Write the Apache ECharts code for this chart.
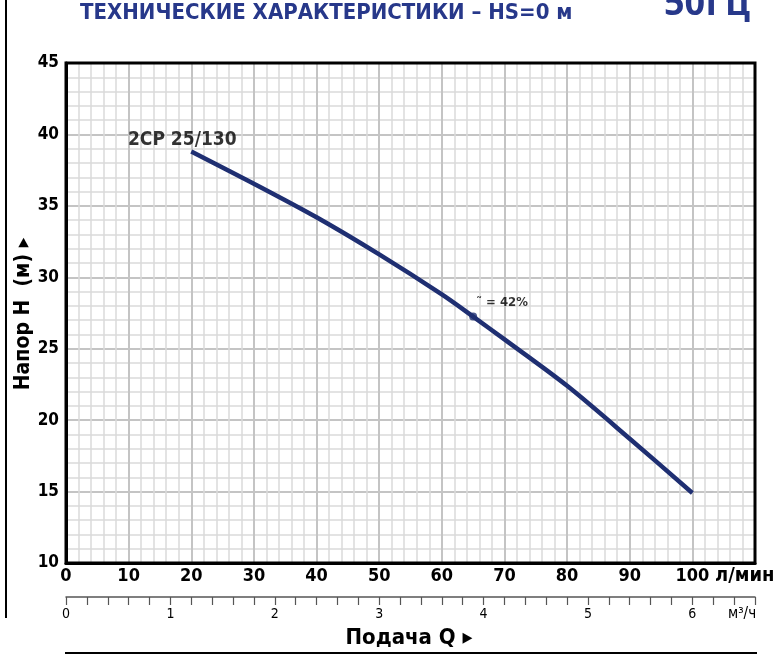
<!DOCTYPE html>
<html><head><meta charset="utf-8">
<script src="https://cdn.jsdelivr.net/npm/echarts@6/dist/echarts.min.js"></script>
<style>html,body{margin:0;padding:0;background:#fff}#c{width:781px;height:655px}</style>
</head><body><div id="c"></div>
<script>
// ---- data ----
const flowLpm = [20, 30, 40, 50, 60, 65, 70, 80, 90, 100];
const headM   = [38.8, 36.55, 34.2, 31.6, 28.8, 27.25, 25.65, 22.4, 18.7, 14.9];
const curveName = '2CP 25/130';
const effFlow = 65;
const effHead = 27.25;
const effText = '˜ = 42%';
const lpmAxis = { min: 0, max: 110, step: 10 };
const headAxis = { min: 10, max: 45, step: 5 };
const m3hAxis = { min: 0, max: 6.6, step: 0.2 };
const titleText = 'ТЕХНИЧЕСКИЕ ХАРАКТЕРИСТИКИ – HS=0 м';
const freqText = '50Гц';
const yName = 'Напор H  (м) ▸';
const xName = 'Подача Q ▸';
const lpmUnit = 'л/мин';
const m3hUnit = 'м³/ч';

const NARROW = '"Liberation Sans Narrow","DejaVu Sans Condensed","Liberation Sans",sans-serif';
const NAVY = '#1f2f72';
const TITLE = '#27388a';

const chart = echarts.init(document.getElementById('c'), null, {renderer: 'canvas'});
const curve = flowLpm.map((q, i) => [q, headM[i]]);

chart.setOption({
  animation: false,
  backgroundColor: '#fff',
  grid: [
    {left: 66, right: 26, top: 63, bottom: 92, show: true, borderColor: '#000', borderWidth: 3, backgroundColor: 'transparent', z: 3},
    {left: 66, right: 26, top: 596, height: 1}
  ],
  xAxis: [
    {
      type: 'value', gridIndex: 0, min: lpmAxis.min, max: lpmAxis.max, interval: lpmAxis.step,
      axisLine: {show: true, lineStyle: {color: '#000', width: 3}},
      axisTick: {show: false},
      axisLabel: {
        margin: 4, color: '#000', fontWeight: 'bold', fontSize: 18, fontFamily: NARROW,
        formatter: v => (v <= 100 ? String(v) : '')
      },
      splitLine: {show: true, lineStyle: {color: '#c4c4c4', width: 2}},
      minorTick: {show: false, splitNumber: 5},
      minorSplitLine: {show: true, lineStyle: {color: '#dadada', width: 1.5}}
    },
    {
      type: 'value', gridIndex: 1, min: m3hAxis.min, max: m3hAxis.max, interval: m3hAxis.step,
      position: 'bottom',
      axisLine: {show: true, lineStyle: {color: '#555', width: 1.5}},
      axisTick: {show: true, length: 8, lineStyle: {color: '#555', width: 1.2}},
      axisLabel: {
        margin: 10, color: '#000', fontSize: 14, fontFamily: NARROW,
        formatter: v => (Math.abs(v - Math.round(v)) < 1e-6 && v < 6.5 ? String(Math.round(v)) : '')
      },
      splitLine: {show: false}
    }
  ],
  yAxis: [
    {
      type: 'value', gridIndex: 0, min: headAxis.min, max: headAxis.max, interval: headAxis.step,
      axisLine: {show: true, lineStyle: {color: '#000', width: 3}},
      axisTick: {show: false},
      axisLabel: {margin: 7, color: '#000', fontWeight: 'bold', fontSize: 17, fontFamily: NARROW},
      splitLine: {show: true, lineStyle: {color: '#c4c4c4', width: 2}},
      minorTick: {show: false, splitNumber: 5},
      minorSplitLine: {show: true, lineStyle: {color: '#dadada', width: 1.5}}
    },
    {type: 'value', gridIndex: 1, show: false}
  ],
  series: [
    {
      type: 'line', xAxisIndex: 0, yAxisIndex: 0, data: curve, smooth: 0.3,
      showSymbol: false, lineStyle: {color: NAVY, width: 4.5}, z: 5
    },
    {
      type: 'scatter', xAxisIndex: 0, yAxisIndex: 0, z: 6,
      data: [
        {value: [flowLpm[0], headM[0]], symbolSize: 0,
         label: {show: true, formatter: curveName, position: 'top', offset: [-9, 3], distance: 5,
                 color: '#000', fontWeight: 'bold', fontSize: 19, fontFamily: NARROW}},
        {value: [effFlow, effHead], symbolSize: 8, itemStyle: {color: NAVY},
         label: {show: true, formatter: effText, position: [7, -16],
                 color: '#000', fontWeight: 'bold', fontSize: 13, fontFamily: NARROW}}
      ]
    }
  ],
  graphic: [
    {type: 'line', shape: {x1: 6, y1: 0, x2: 6, y2: 618}, style: {stroke: '#000', lineWidth: 2}},
    {type: 'text', left: 80, top: 2, style: {text: titleText, fill: TITLE, font: 'bold 22px ' + NARROW}},
    {type: 'text', left: 664, top: -13, style: {text: freqText, fill: TITLE, font: 'bold 36px "Open Sans","Liberation Sans",sans-serif'}},
    {type: 'text', x: 715, y: 576, style: {text: lpmUnit, fill: '#000', font: 'bold 20px ' + NARROW, verticalAlign: 'middle'}},
    {type: 'text', x: 728, y: 614, style: {text: m3hUnit, fill: '#000', font: '15px ' + NARROW, verticalAlign: 'middle'}},
    {type: 'text', x: 24, y: 314, rotation: Math.PI / 2,
     style: {text: yName, fill: '#000', font: 'bold 21px ' + NARROW, align: 'center', verticalAlign: 'middle'}},
    {type: 'text', x: 409, y: 638, style: {text: xName, fill: '#000', font: 'bold 22px ' + NARROW, align: 'center', verticalAlign: 'middle'}},
    {type: 'line', shape: {x1: 65, y1: 653, x2: 757, y2: 653}, style: {stroke: '#000', lineWidth: 2}}
  ]
});
</script>
</body></html>
